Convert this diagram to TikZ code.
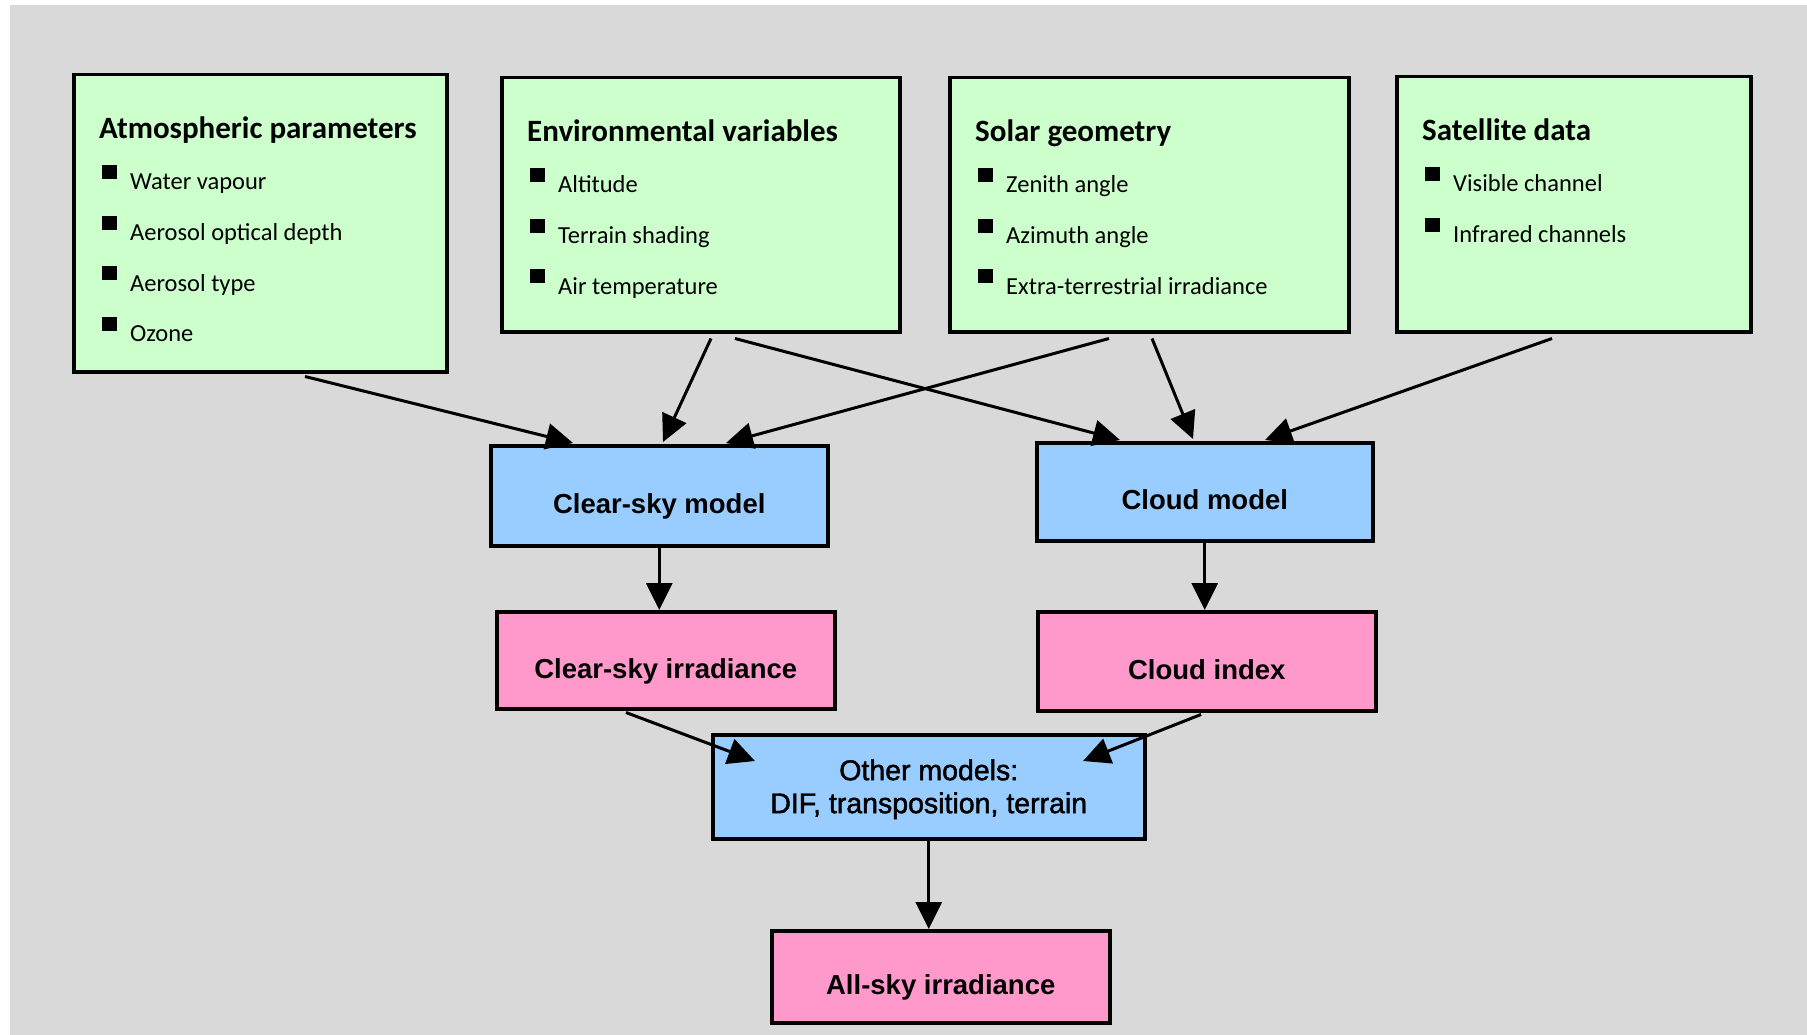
\documentclass[tikz,border=0pt]{standalone}
\usepackage{fontspec}
\setmainfont{Carlito}
\newfontfamily\flowfont{Liberation Sans}
\newfontfamily\flowmedium[FakeBold=1.6]{Liberation Sans}
\usetikzlibrary{arrows.meta,calc}

\definecolor{bggray}{HTML}{D9D9D9}
\definecolor{inputgreen}{HTML}{CCFFCC}
\definecolor{modelblue}{HTML}{99CCFF}
\definecolor{resultpink}{HTML}{FF99CC}

% heading, bullet square and item text of one input box
\newcommand\inputcontent[3]{%
  \node[inhead] (#1-head) at ($(#1.north west)+(27,66)$) {#2};
  \foreach \txt [count=\k] in {#3} {
    \node[bulletsq] (#1-b\k) at ($(#1.north west)+(30,{92+50.5*(\k-1)})$) {};
    \node[initem] (#1-t\k) at ($(#1.north west)+(58,{117+50.5*(\k-1)})$) {\txt};
  }%
}

\begin{document}
\begin{tikzpicture}[x=1pt,y=-1pt,
  box/.style={draw=black, line width=3.5pt, inner sep=0pt, anchor=north west},
  inbox/.style={box, fill=inputgreen},
  flowtext/.style={font=\flowfont\bfseries\fontsize{27.5}{33}\selectfont, align=center,
    text height=36pt, text depth=0pt},
  modelbox/.style={box, fill=modelblue, flowtext},
  resbox/.style={box, fill=resultpink, flowtext},
  inhead/.style={anchor=base west, inner sep=0pt, font=\bfseries\fontsize{31}{36}\selectfont},
  initem/.style={anchor=base west, inner sep=0pt, font=\fontsize{24.5}{30}\selectfont},
  bulletsq/.style={fill=black, minimum width=15pt, minimum height=14pt, inner sep=0pt, anchor=north west},
  arr/.style={line width=3pt, -{Triangle[length=27pt,width=26pt]}}
]
\useasboundingbox (0,0) rectangle (1807,1035);
\fill[bggray] (9.5,5) rectangle (1807,1035);

% input boxes
\node[inbox, minimum width=373pt, minimum height=297pt] (atm) at (72,73) {};
\node[inbox, minimum width=398pt, minimum height=254pt] (env) at (500,76) {};
\node[inbox, minimum width=399pt, minimum height=254pt] (sol) at (948,76) {};
\node[inbox, minimum width=354pt, minimum height=255pt] (sat) at (1395,75) {};

\inputcontent{atm}{Atmospheric parameters}{Water vapour,Aerosol optical depth,Aerosol type,Ozone}
\inputcontent{env}{Environmental variables}{Altitude,Terrain shading,Air temperature}
\inputcontent{sol}{Solar geometry}{Zenith angle,Azimuth angle,Extra-terrestrial irradiance}
\inputcontent{sat}{Satellite data}{Visible channel,Infrared channels}

% models and results
\node[modelbox, minimum width=337pt, minimum height=100pt] (clearm) at (489,444) {Clear-sky model};
\node[modelbox, minimum width=336pt, minimum height=98pt] (cloudm) at (1035,441) {Cloud model};
\node[resbox, minimum width=338pt, minimum height=97pt] (clearirr) at (495,610) {Clear-sky irradiance};
\node[resbox, minimum width=338pt, minimum height=99pt] (cloudidx) at (1036,610) {Cloud index};
\node[box, fill=modelblue, minimum width=432pt, minimum height=104pt] (other) at (711,733) {};
\node[font=\flowmedium\fontsize{28.5}{33}\selectfont, align=center, inner sep=0pt] (other-txt)
  at ([yshift=-2.5pt]other.center) {Other models:\\DIF, transposition, terrain};
\node[resbox, minimum width=338pt, minimum height=92pt] (allsky) at (770,929) {All-sky irradiance};

% connectors
\draw[arr] ([xshift=233pt,yshift=-3pt]atm.south west) -- ([xshift=84pt,yshift=1pt]clearm.north west);
\draw[arr] ([xshift=211pt,yshift=-5pt]env.south west) -- ([xshift=174pt,yshift=2pt]clearm.north west);
\draw[arr] ([xshift=235pt,yshift=-5pt]env.south west) -- ([xshift=85pt,yshift=1pt]cloudm.north west);
\draw[arr] ([xshift=161pt,yshift=-5pt]sol.south west) -- ([xshift=237pt,yshift=1pt]clearm.north west);
\draw[arr] ([xshift=204pt,yshift=-5pt]sol.south west) -- ([xshift=158pt,yshift=2pt]cloudm.north west);
\draw[arr] ([xshift=157pt,yshift=-5pt]sat.south west) -- ([xshift=230pt,yshift=1pt]cloudm.north west);
\draw[arr] (clearm.south) -- (clearm.south |- clearirr.north);
\draw[arr] (cloudm.south) -- (cloudm.south |- cloudidx.north);
\draw[arr] ([xshift=131pt,yshift=-2pt]clearirr.south west) -- ([xshift=44pt,yshift=-28pt]other.north west);
\draw[arr] ([xshift=165pt,yshift=-2pt]cloudidx.south west) -- ([xshift=372pt,yshift=-28pt]other.north west);
\draw[arr] (other.south) -- (other.south |- allsky.north);
\end{tikzpicture}
\end{document}
